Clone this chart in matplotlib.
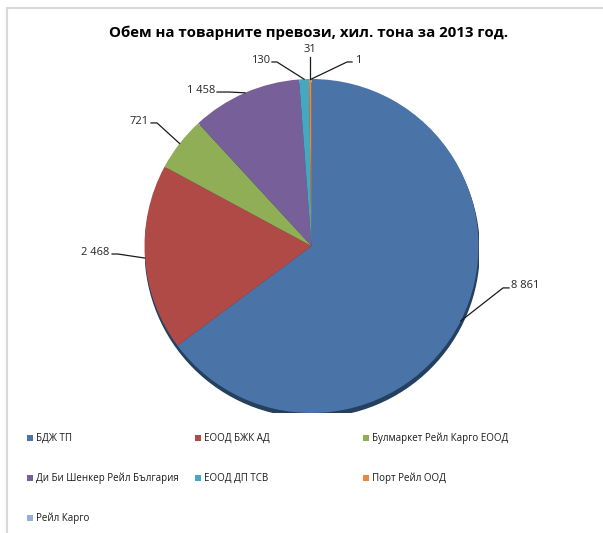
import matplotlib.pyplot as plt
import numpy as np
from matplotlib.patches import Circle, Rectangle
from matplotlib.lines import Line2D

plt.rcParams['font.family'] = ['Open Sans', 'DejaVu Sans']

title = "Обем на товарните превози, хил. тона за 2013 год."
companies = ["БДЖ ТП", "ЕООД БЖК АД", "Булмаркет Рейл Карго ЕООД",
             "Ди Би Шенкер Рейл България", "ЕООД ДП ТСВ", "Порт Рейл ООД",
             "Рейл Карго"]
volumes = [8861, 2468, 721, 1458, 130, 31, 1]
value_labels = ["8 861", "2 468", "721", "1 458", "130", "31", "1"]
colors = ["#4a74a8", "#b04a47", "#8fae55", "#77609a", "#46a8c0", "#e8893f", "#94b0d6"]

# label layout in pie units: text pos, knee, stub end, horizontal alignment
label_layout = [
    ((1.195, -0.235), (1.147, -0.251), (1.183, -0.251), "left"),
    ((-1.213, -0.036), (-1.159, -0.048), (-1.194, -0.048), "right"),
    ((-0.973, 0.743), (-0.925, 0.737), (-0.961, 0.737), "right"),
    ((-0.578, 0.934), (-0.494, 0.922), (-0.566, 0.922), "right"),
    ((-0.249, 1.108), (-0.207, 1.102), (-0.237, 1.102), "right"),
    ((0.0, 1.174), None, None, "center"),
    ((0.260, 1.108), (0.213, 1.102), (0.243, 1.102), "left"),
]

W, H = 603, 533
cx, cy, r = 311.5, 246, 167

fig = plt.figure(figsize=(W / 100, H / 100), dpi=100)
ax = fig.add_axes([(cx - r) / W, (H - cy - r) / H, 2 * r / W, 2 * r / H])

# shadow under the pie
ax.add_patch(Circle((0.004, -0.024), 1.0, color="#23405f", zorder=0))

wedges, _ = ax.pie(volumes, colors=colors, startangle=90, counterclock=False,
                   wedgeprops=dict(linewidth=0))
for w in wedges:
    w.set_zorder(1)

for w, lab, (tpos, knee, stub, ha) in zip(wedges, value_labels, label_layout):
    mid = np.deg2rad((w.theta1 + w.theta2) / 2)
    ax_, ay_ = np.cos(mid), np.sin(mid)
    if knee is None:
        xs, ys = [ax_, ax_], [ay_, tpos[1] - 0.04]
        ax.text(ax_, tpos[1], lab, ha="center", va="center", fontsize=8, color="#262626")
    else:
        xs, ys = [ax_, knee[0], stub[0]], [ay_, knee[1], stub[1]]
        ax.text(tpos[0], tpos[1], lab, ha=ha, va="center", fontsize=8, color="#262626")
    ax.plot(xs, ys, color="#1a1a1a", lw=0.9, clip_on=False, zorder=3)

ax.set_xlim(-1, 1)
ax.set_ylim(-1, 1)
ax.axis("off")

fig.text(309 / W, 1 - 33 / H, title, ha="center", va="center",
         fontsize=10.8, fontweight="bold", color="black")

# legend, row by row
col_x = [27, 195, 363]
row_y = [438, 478, 518]
for i, (name, c) in enumerate(zip(companies, colors)):
    x0 = col_x[i % 3]
    y0 = row_y[i // 3]
    fig.add_artist(Rectangle((x0 / W, (H - y0 - 3) / H), 6 / W, 6 / H,
                             transform=fig.transFigure, color=c, lw=0))
    fig.text((x0 + 9) / W, 1 - y0 / H, name, ha="left", va="center",
             fontsize=7, color="#1a1a1a")

# light frame on top and left
fig.add_artist(Line2D([7 / W, 1], [1 - 8 / H, 1 - 8 / H], transform=fig.transFigure,
                      color="#d9d9d9", lw=1.5))
fig.add_artist(Line2D([7 / W, 7 / W], [0, 1 - 8 / H], transform=fig.transFigure,
                      color="#d9d9d9", lw=1.5))

fig.savefig("out.png", dpi=100, facecolor="white")
